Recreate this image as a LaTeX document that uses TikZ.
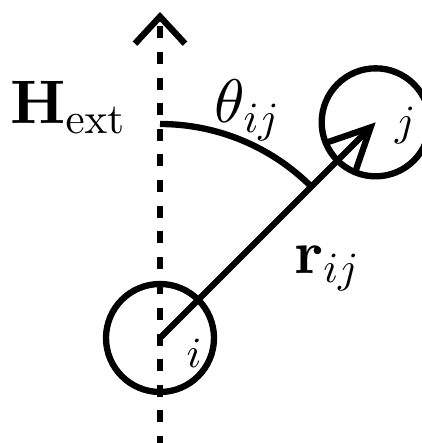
\RequirePackage{fix-cm}
\documentclass[tikz,border=0pt]{standalone}
\usepackage{amsmath}
\usepackage{tikz}
\usetikzlibrary{arrows.meta, positioning, calc}
% scale the 10pt designs, as the reference does
\DeclareFontShape{OT1}{cmr}{m}{n}{<->cmr10}{}
\DeclareFontShape{OT1}{cmr}{bx}{n}{<->cmbx10}{}
\DeclareFontShape{OML}{cmm}{m}{it}{<->cmmi10}{}
\tikzset{
    site/.style={draw, circle, minimum size=2.16cm, inner sep=0pt},
    % text sizes
    biglabel/.style={inner sep=0pt, anchor=base west, font=\fontsize{35}{42}\selectfont},
    sitelabel/.style={inner sep=0pt, anchor=base west, font=\fontsize{24.5}{30}\selectfont},
    axisline/.style={dash pattern=on 0.24cm off 0.272cm,
        -{Straight Barb[length=0.54cm, width=1.0cm]}},
}

\begin{document}
\begin{tikzpicture}[line width=3.6pt]
    \useasboundingbox (-3.2,-2.1) rectangle (5.24,6.76);

    \node[site] (i) at (0,0) {};
    \node[site] (j) at (45:6.1) {};

    \coordinate (axisbot) at (0,-2.2);
    \coordinate (axistop) at (0,6.52);
    \draw[axisline] (axisbot) -- (axistop);

    \draw[-{Straight Barb[length=0.82cm, width=0.8cm]}] (i.center) -- (j.center);

    \draw (i.center) ++(90:4.28) arc[start angle=90, end angle=45, radius=4.28];

    \node[biglabel] (hext) at (-3.06,4.28) {$\mathbf{H}_{\mathrm{ext}}$};
    \node[biglabel] (theta) at (1.03,4.3) {$\theta_{ij}$};
    \node[biglabel] (rij) at (2.62,1.3) {$\mathbf{r}_{ij}$};
    \node[sitelabel] (ilabel) at (0.47,-0.58) {$i$};
    \node[sitelabel] (jlabel) at (4.64,4.04) {$j$};
\end{tikzpicture}
\end{document}
